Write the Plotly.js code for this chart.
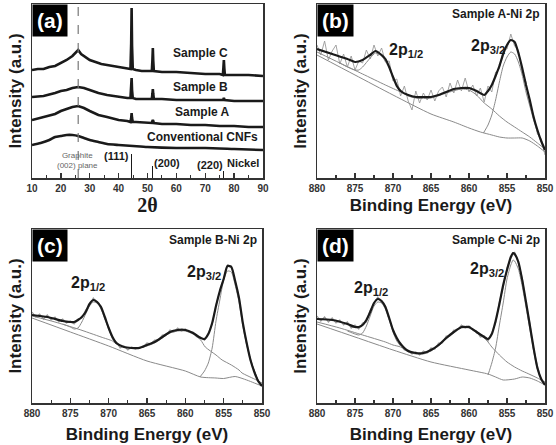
<!DOCTYPE html>
<html><head><meta charset="utf-8">
<script src="https://cdn.plot.ly/plotly-3.0.1.min.js"></script>
<style>html,body{margin:0;padding:0;background:#fff;} #chart{width:556px;height:445px;}</style>
</head><body><div id="chart"></div>
<script>
// ---------- Panel (a): XRD ----------
const xC = [10,12,14,16,18,20,22,24,25,26,27,28,30,32,34,36,38,40,42,43,44.1,44.35,44.5,44.65,44.9,46,48,50,51.5,51.7,51.85,52,52.2,55,60,65,70,75,76.1,76.3,76.45,76.6,76.8,80,85,90];
const yC = [108,109,109,111,112,115,118,122,125,128,124,122,118,116,114,113,112,111,110,109,109,135,170,132,109,108,107,107,107,118,130,117,107,106,106,105,104,104,103,111,118,110,103,103,103,102];
const xB = [10,14,18,20,22,24,26,28,30,33,36,40,43,44.1,44.35,44.5,44.65,44.9,46,50,51.5,51.7,51.85,52,52.2,55,60,65,70,75,76.2,76.45,76.7,80,85,90];
const yB = [81,82,85,87,88,90,91,90,88,85,83,81,80,80,89,100,88,80,79,79,79,84,89,84,79,79,78,78,78,78,78,80,78,77,77,77];
const xA = [10,14,18,20,22,24,26,28,30,33,36,40,43,44.1,44.35,44.5,44.65,44.9,46,50,51.5,51.7,51.85,52,52.2,55,60,65,70,75,80,85,90];
const yA = [58,61,64,67,69,71,72,70,67,63,61,58,57,56,60,65,60,56,56,55,55,57,58,57,55,54,54,53,53,52,52,51,51];
const xCNF = [10,13,16,18,20,22,24,26,28,30,33,36,40,45,50,60,70,80,90];
const yCNF = [33,35,38,41,42,43,43,42,40,38,36,34,33,32,31,30,30,29,28];
const nickelPos = [44.5,51.8,76.4];
const nickelInt = [24,12,7];
const nickelHkl = ['(111)','(200)','(220)'];
const graphite002 = 26;

// ---------- XPS shared energy grid for raw data ----------
const energyGrid = [880,879.5,879,878.5,878,877.5,877,876.5,876,875.5,875,874.5,874,873.5,873,872.5,872,871.5,871,870.5,870,869.5,869,868.5,868,867.5,867,866.5,866,865.5,865,864.5,864,863.5,863,862.5,862,861.5,861,860.5,860,859.5,859,858.5,858,857.5,857,856.5,856,855.5,855,854.5,854,853.5,853,852.5,852,851.5,851,850.5,850];

// ---------- Panel (b): Sample A ----------
const rawA = [133,123,137,118,127,133,114,124,111,122,108,117,115,128,119,133,122,130,116,117,97,99,82,92,77,68,87,75,85,78,88,77,87,91,81,95,85,98,87,100,86,93,82,90,76,92,86,106,109,128,129,144,132,128,105,96,73,63,44,39,23];
const fitA_E = [880,878,876,875,874,873,872.3,871.5,871,870.5,870,869.5,869,868,867,866,865,864,863,862,861,860,859,858,857.5,857,856.5,856,855.5,855,854.5,854,853.5,853,852.5,852,851.5,851,850.5,850];
const fitA_I = [129,124,119,116,118,123,127,123,119,111,101,92,87,83,81,81,81,83,86,89,90,90,87,83,87,93,102,112,124,133,138,136,125,110,93,78,61,48,37,28];
const bgA_E = [880,875,870,865,862,860,858.5,857,856,855,854,853,852,851,850];
const bgA_I = [123,103,83,64,56,50,46,43,41,40,40,40,37,32,26];
const satA_E = [880,877,874,871,869,868,867,865,863,861,860,859,858,857,856,855,854,853,852,851,850];
const satA_I = [126,115,104,93,86,82,80,80,85,89,88,83,75,69,62,56,51,46,41,35,29];
const p12A_E = [877,876,875,874.5,874,873,872.3,871.5,870.5,869.5,869,868.5];
const p12A_I = [115,111,108,108,111,120,125,122,110,94,88,84];
const p32A_E = [858.1,857.5,857,856.5,856,855.5,855,854.5,854,853.5,853,852.5,852,851.5,851,850.5,850];
const p32A_I = [45,53,63,78,96,112,121,126,124,116,103,86,72,58,46,36,28];

// ---------- Panel (c): Sample B ----------
const rawB = [91,86,89,84,88,83,86,81,84,80,82,79,84,85,93,98,105,100,97,85,76,64,61,55,57,53,56,54,56,56,60,59,63,63,68,68,73,71,75,72,74,71,71,66,66,63,70,79,98,111,126,138,137,121,106,79,61,42,32,21,18];
const fitB_E = [880,878,876,875,874.5,874,873.5,873,872.5,872,871.5,871,870.5,870,869.5,869,868,867,866,865,864,863,862,861,860,859,858,857.5,857,856.5,856,855.5,855,854.5,854,853.5,853,852.5,852,851.5,851,850.5,850];
const fitB_I = [88,86,82,81,81,83,86,91,99,103,101,96,86,75,66,60,56,55,55,58,61,66,71,73,73,70,65,64,69,80,97,112,124,137,136,122,105,80,60,43,31,22,17];
const bgB_E = [880,875,870,865,860,858,856,855,853.5,852,851,850];
const bgB_I = [85,71,57,42,32,26,25,24.5,26.5,23,20,17];
const satB_E = [880,877,874,871,869.5,869,868,867,866,865,864,863,862,861,860,859,858,857.4,856,855.2,854,853,852.6,851,850];
const satB_I = [87,81,74,66,62,59,56,55,55,57,60,65,70,72,72,69,63,56,48,43,38,33,30,24,20];
const p12B_E = [876,875,874.5,874,873.5,873,872.5,872,871.5,871,870.5,870,869.5,869];
const p12B_I = [79,76,74,75,81,89,97,101,100,94,84,74,65,61];
const p32B_E = [858.1,857.5,857,856.5,856,855.5,855,854.5,854,853.5,853,852.5,852,851.5,851,850.5,850];
const p32B_I = [26,32,40,55,82,103,123,132,131,118,101,77,58,44,32,23,18];

// ---------- Panel (d): Sample C ----------
const rawC = [87,82,86,81,85,80,83,78,81,75,78,74,80,81,93,99,106,101,97,84,74,63,60,53,53,49,51,48,52,50,55,54,60,60,67,67,73,73,78,75,77,73,72,66,67,62,70,80,101,116,135,145,151,140,125,100,80,54,37,23,19];
const fitC_E = [880,878,876,875,874.5,874,873.5,873,872.5,872,871.5,871,870.5,870,869.5,869,868,867,866,865,864,863,862,861,860.5,860,859,858,857.5,857,856.5,856,855.5,855,854.5,854.2,854,853.5,853,852.5,852,851.5,851,850.5,850];
const fitC_I = [84,83,79,76,76,78,83,91,100,104,102,96,85,73,65,59,52,50,50,53,58,65,71,76,76,76,71,66,64,69,82,99,118,133,146,150,149,141,123,101,78,55,35,24,18];
const bgC_E = [880,875,870,865,860,857.5,856.5,855.5,854,853,852,851,850];
const bgC_I = [79,66,53,41,33,29,26,23,24,26,25,22,18];
const satC_E = [880,877,874,871,870,869,868,867,866,865,864,863,862,861,860,859,858,857.5,857,856,855,854,853,852.4,851,850];
const satC_I = [81,75,68,61,58,56,51,49,49,52,57,64,70,75,75,70,65,61,56,48,41,36,32,30,25,21];
const p12C_E = [876,875,874.5,874,873.5,873,872.5,872,871.5,871,870.5,870,869.5,869];
const p12C_I = [72,69,68,70,77,87,97,101,100,94,83,71,62,57];
const p32C_E = [857.5,857,856.5,856,855.5,855,854.5,854.2,854,853.5,853,852.5,852,851.5,851,850.5,850];
const p32C_I = [28,40,55,78,100,124,138,143,142,134,117,96,74,52,34,24,18];

// ---------- layout helpers ----------
const W = 556, H = 445;
const FONT = 'Liberation Sans, Arial, sans-serif';
const INK = '#1a1a1a';
const GRAY = '#8a8a8a';
const boxes = {
  a:{l:32,r:263,t:4,b:178},
  b:{l:317,r:545,t:4,b:178},
  c:{l:32,r:262,t:229,b:403},
  d:{l:317,r:545,t:229,b:403}
};
const YMAX = 174;

function xAxis(box, range, dtick, minorDtick, anchor, titleText, titleFont, standoff){
  return {
    domain:[box.l/W, box.r/W], range:range, anchor:anchor,
    tickmode:'linear', tick0:range[0], dtick:dtick,
    ticks:'inside', ticklen:5, tickwidth:1.3, tickcolor:'#333',
    minor:{ticks:'inside', ticklen:3, tickwidth:1.1, tickcolor:'#333', tick0:range[0], dtick:minorDtick, showgrid:false},
    showline:true, mirror:true, linecolor:'#333', linewidth:1.5,
    showgrid:false, zeroline:false, fixedrange:true,
    tickfont:{family:FONT, size:10, color:'#333', weight:'bold'},
    title:{text:titleText, font:titleFont, standoff:standoff}
  };
}
function yAxis(box, anchor){
  return {
    domain:[1-box.b/H, 1-box.t/H], range:[0,YMAX], anchor:anchor,
    showticklabels:false, ticks:'', showline:true, mirror:true,
    linecolor:'#333', linewidth:1.5, showgrid:false, zeroline:false, fixedrange:true,
    title:{text:'Intensity (a.u.)', font:{family:FONT, size:17, color:INK, weight:'bold'}, standoff:4}
  };
}
const beFont = {family:FONT, size:17, color:INK, weight:'bold'};

const traces = [];
function line(x, y, xa, ya, color, width, shape){
  traces.push({type:'scatter', mode:'lines', x:x, y:y, xaxis:xa, yaxis:ya,
    line:{color:color, width:width, shape:shape||'linear', smoothing:0.6}, hoverinfo:'skip'});
}
// (a)
line(xCNF, yCNF, 'x', 'y', INK, 2.6, 'spline');
line(xA, yA, 'x', 'y', INK, 2.6);
line(xB, yB, 'x', 'y', INK, 2.6);
line(xC, yC, 'x', 'y', INK, 2.6);
traces.push({type:'bar', x:nickelPos, y:nickelInt, width:0.3, xaxis:'x', yaxis:'y',
  marker:{color:INK, line:{width:0}}, hoverinfo:'skip'});

function xpsPanel(xa, ya, raw, fE, fI, bE, bI, sE, sI, p1E, p1I, p3E, p3I, rawW){
  line(energyGrid, raw, xa, ya, '#9a9a9a', rawW);
  line(bE, bI, xa, ya, GRAY, 1, 'spline');
  line(sE, sI, xa, ya, GRAY, 1, 'spline');
  line(p1E, p1I, xa, ya, GRAY, 1, 'spline');
  line(p3E, p3I, xa, ya, GRAY, 1, 'spline');
  line(fE, fI, xa, ya, INK, 2.2, 'spline');
}
xpsPanel('x2','y2', rawA, fitA_E, fitA_I, bgA_E, bgA_I, satA_E, satA_I, p12A_E, p12A_I, p32A_E, p32A_I, 0.9);
xpsPanel('x3','y3', rawB, fitB_E, fitB_I, bgB_E, bgB_I, satB_E, satB_I, p12B_E, p12B_I, p32B_E, p32B_I, 1.2);
xpsPanel('x4','y4', rawC, fitC_E, fitC_I, bgC_E, bgC_I, satC_E, satC_I, p12C_E, p12C_I, p32C_E, p32C_I, 1.2);

// ---------- annotations ----------
const ann = [];
function panelTag(txt, xa, ya){
  ann.push({text:txt, xref:xa+' domain', yref:ya+' domain', x:0, y:1, xanchor:'left', yanchor:'top',
    showarrow:false, bgcolor:'#000', borderpad:4,
    font:{family:FONT, size:21, color:'#fff', weight:'bold'}});
}
panelTag('(a)','x','y'); panelTag('(b)','x2','y2'); panelTag('(c)','x3','y3'); panelTag('(d)','x4','y4');

function lab(txt, xa, ya, x, y, size, color, weight){
  ann.push({text:txt, xref:xa, yref:ya, x:x, y:y, xanchor:'center', yanchor:'middle', showarrow:false,
    font:{family:FONT, size:size, color:color||INK, weight:weight||'bold'}});
}
// (a) labels
lab('Sample C','x','y',68.5,125,12);
lab('Sample B','x','y',68.5,91,12);
lab('Sample A','x','y',69,66,12);
lab('Conventional CNFs','x','y',69.1,41,12);
lab('Nickel','x','y',83.1,15,11);
lab(nickelHkl[0],'x','y',39.2,22,11);
lab(nickelHkl[1],'x','y',56.8,15,11);
lab(nickelHkl[2],'x','y',71.5,13,11);
lab('Graphite<br>(002) plane','x','y',25.7,18,8,'#666','normal');

// sample titles
function ttl(txt, xa, ya, yy){
  ann.push({text:txt, xref:xa+' domain', yref:ya+' domain', x:0.985, y:yy, xanchor:'right', yanchor:'middle',
    showarrow:false, font:{family:FONT, size:12, color:INK, weight:'bold'}});
}
ttl('Sample A-Ni 2p','x2','y2',1-10/174);
ttl('Sample B-Ni 2p','x3','y3',1-11/174);
ttl('Sample C-Ni 2p','x4','y4',1-11/174);

// peak labels
lab('2p<sub>1/2</sub>','x2','y2',868.3,128,16);
lab('2p<sub>3/2</sub>','x2','y2',857.5,132,16);
lab('2p<sub>1/2</sub>','x3','y3',872.7,120,16);
lab('2p<sub>3/2</sub>','x3','y3',857.6,131,16);
lab('2p<sub>1/2</sub>','x4','y4',872.9,115,16);
lab('2p<sub>3/2</sub>','x4','y4',857.6,134,16);

const layout = {
  width:W, height:H, margin:{l:0,r:0,t:0,b:0}, paper_bgcolor:'#fff', plot_bgcolor:'#fff',
  showlegend:false, bargap:0,
  xaxis: xAxis(boxes.a,[10,90],10,5,'y','2θ',{family:'Liberation Serif, Times New Roman, serif', size:20, color:INK, weight:'bold'},2),
  yaxis: yAxis(boxes.a,'x'),
  xaxis2: xAxis(boxes.b,[880,850],5,2.5,'y2','Binding Energy (eV)',beFont,6),
  yaxis2: yAxis(boxes.b,'x2'),
  xaxis3: xAxis(boxes.c,[880,850],5,2.5,'y3','Binding Energy (eV)',beFont,10),
  yaxis3: yAxis(boxes.c,'x3'),
  xaxis4: xAxis(boxes.d,[880,850],5,2.5,'y4','Binding Energy (eV)',beFont,10),
  yaxis4: yAxis(boxes.d,'x4'),
  shapes:[{type:'line', xref:'x', yref:'y domain', x0:graphite002, x1:graphite002, y0:0, y1:1,
    line:{color:'#777', width:1.2, dash:'dash'}}],
  annotations: ann
};
Plotly.newPlot('chart', traces, layout, {displayModeBar:false, staticPlot:true});
</script>
</body></html>
